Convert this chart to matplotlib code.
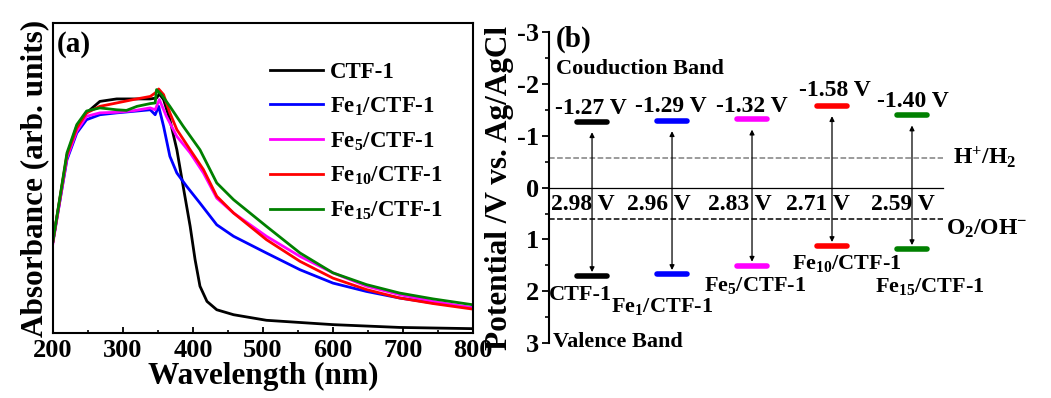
import matplotlib
matplotlib.use("Agg")
import matplotlib.pyplot as plt
import numpy as np
from matplotlib.ticker import MultipleLocator

plt.rcParams['font.family'] = ['Liberation Serif', 'DejaVu Serif']
plt.rcParams['font.weight'] = 'bold'
plt.rcParams['axes.labelweight'] = 'bold'
plt.rcParams['axes.unicode_minus'] = False
plt.rcParams['mathtext.fontset'] = 'custom'
plt.rcParams['mathtext.rm'] = 'Liberation Serif:bold'
plt.rcParams['mathtext.it'] = 'Liberation Serif:bold'
plt.rcParams['mathtext.bf'] = 'Liberation Serif:bold'
plt.rcParams['mathtext.default'] = 'rm'

# (a) UV-vis absorbance
wl_ctf = [200, 220, 234, 248, 267, 291, 315, 339, 348, 352, 358, 367, 377, 386, 396, 403, 410, 420, 434, 458, 505, 600, 695, 800]
ab_ctf = [0.296, 0.570, 0.667, 0.710, 0.747, 0.755, 0.755, 0.755, 0.758, 0.771, 0.753, 0.688, 0.591, 0.473, 0.344, 0.237, 0.151, 0.102, 0.075, 0.059, 0.041, 0.027, 0.018, 0.014]

wl_fe1 = [200, 220, 234, 248, 267, 291, 315, 339, 346, 351, 358, 367, 377, 391, 410, 434, 458, 505, 553, 600, 648, 695, 743, 800]
ab_fe1 = [0.296, 0.559, 0.645, 0.688, 0.704, 0.710, 0.715, 0.720, 0.704, 0.731, 0.667, 0.570, 0.516, 0.473, 0.419, 0.349, 0.312, 0.258, 0.204, 0.161, 0.134, 0.113, 0.097, 0.081]

wl_fe5 = [200, 220, 234, 248, 267, 291, 315, 339, 346, 352, 362, 377, 396, 415, 434, 458, 505, 553, 600, 648, 695, 743, 800]
ab_fe5 = [0.290, 0.565, 0.651, 0.699, 0.710, 0.712, 0.717, 0.726, 0.720, 0.753, 0.699, 0.634, 0.581, 0.516, 0.435, 0.387, 0.312, 0.247, 0.194, 0.151, 0.124, 0.102, 0.081]

wl_fe10 = [200, 220, 234, 248, 267, 291, 315, 339, 346, 351, 358, 367, 377, 396, 415, 434, 458, 505, 553, 600, 648, 695, 743, 800]
ab_fe10 = [0.296, 0.575, 0.661, 0.710, 0.731, 0.742, 0.753, 0.763, 0.774, 0.787, 0.769, 0.710, 0.656, 0.591, 0.527, 0.441, 0.387, 0.301, 0.231, 0.177, 0.140, 0.113, 0.095, 0.077]

wl_fe15 = [200, 220, 234, 248, 267, 291, 305, 320, 339, 346, 348, 355, 367, 386, 410, 434, 458, 505, 553, 600, 648, 695, 743, 800]
ab_fe15 = [0.296, 0.581, 0.672, 0.716, 0.726, 0.720, 0.718, 0.731, 0.740, 0.742, 0.785, 0.769, 0.731, 0.667, 0.591, 0.484, 0.430, 0.344, 0.258, 0.194, 0.156, 0.129, 0.110, 0.091]

names = ['CTF-1', 'Fe$_{1}$/CTF-1', 'Fe$_{5}$/CTF-1', 'Fe$_{10}$/CTF-1', 'Fe$_{15}$/CTF-1']
colors = ['black', 'blue', 'magenta', 'red', 'green']

# (b) band positions (V vs. Ag/AgCl)
cb = [-1.27, -1.29, -1.32, -1.58, -1.40]
gap = [2.98, 2.96, 2.83, 2.71, 2.59]
vb = [c + g for c, g in zip(cb, gap)]
h_level = -0.57
o_level = 0.60

fig = plt.figure(figsize=(10.51, 3.98), dpi=100)

# ---- panel (a)
ax = fig.add_axes([0.0504, 0.1633, 0.3996, 0.779])
spectra = [(wl_ctf, ab_ctf), (wl_fe1, ab_fe1), (wl_fe5, ab_fe5), (wl_fe10, ab_fe10), (wl_fe15, ab_fe15)]
for (wl, ab), nm, c in zip(spectra, names, colors):
    ax.plot(wl, ab, color=c, lw=2, label=nm)
ax.set_xlim(200, 800)
ax.set_ylim(0, 1)
ax.set_yticks([])
ax.xaxis.set_major_locator(MultipleLocator(100))
ax.xaxis.set_minor_locator(MultipleLocator(50))
ax.tick_params(axis='x', direction='in', length=4, width=1.3, labelsize=19, pad=4)
ax.tick_params(axis='x', which='minor', direction='in', length=2.5, width=1.2)
for s in ax.spines.values():
    s.set_linewidth(1.5)
ax.set_xlabel('Wavelength (nm)', fontsize=22.5, labelpad=0)
ax.set_ylabel('Absorbance (arb. units)', fontsize=22.5, labelpad=3)
ax.text(0.008, 0.975, '(a)', transform=ax.transAxes, fontsize=21, va='top', ha='left')
ax.legend(loc='upper left', bbox_to_anchor=(0.517, 0.875), frameon=False, fontsize=16.5,
          handlelength=2.3, handletextpad=0.3, labelspacing=0.55, borderaxespad=0, borderpad=0)

# ---- panel (b)
bx = fig.add_axes([0.5224, 0.138, 0.391, 0.781])
xs = np.arange(1, 6)
bx.set_xlim(0.4625, 5.6)
bx.set_ylim(3, -3)
for s in ['top', 'right', 'bottom']:
    bx.spines[s].set_visible(False)
bx.spines['left'].set_linewidth(1.5)
bx.set_xticks([])
bx.yaxis.set_major_locator(MultipleLocator(1))
bx.yaxis.set_minor_locator(MultipleLocator(0.5))
bx.tick_params(axis='y', direction='out', length=5, width=1.3, labelsize=19, pad=2)
bx.tick_params(axis='y', which='minor', direction='out', length=3, width=1.2)
bx.set_ylabel('Potential /V vs. Ag/AgCl', fontsize=22.5, labelpad=2)

line_end = 5.39
bx.plot([0.4625, line_end], [0, 0], color='black', lw=0.9)
bx.plot([0.4625, line_end], [h_level, h_level], ls='--', color='gray', lw=1.1)
bx.plot([0.4625, line_end], [o_level, o_level], ls='--', color='black', lw=1.1)

half = 0.19
for x, c, v, g, col in zip(xs, cb, vb, gap, colors):
    bx.plot([x - half, x + half], [c, c], color=col, lw=4, solid_capstyle='round')
    bx.plot([x - half, x + half], [v, v], color=col, lw=4, solid_capstyle='round')
    bx.annotate('', xy=(x, v - 0.08), xytext=(x, c + 0.2),
                arrowprops=dict(arrowstyle='<|-|>', color='black', lw=0.9,
                                mutation_scale=7, shrinkA=0, shrinkB=0))

gap_x = [0.88, 1.83, 2.85, 3.83, 4.88]
for x, g in zip(gap_x, gap):
    bx.text(x, 0.33, f'{g:.2f} V', fontsize=17, ha='center', va='center')

cb_lab_x = [0.98, 1.98, 3.0, 4.04, 5.01]
cb_lab_y = [-1.52, -1.56, -1.56, -1.87, -1.66]
for x, y, c in zip(cb_lab_x, cb_lab_y, cb):
    bx.text(x, y, f'{c:.2f} V', fontsize=17, ha='center', va='center')

name_x = [0.85, 1.88, 3.04, 4.19, 5.23]
name_y = [2.08, 2.3, 1.88, 1.47, 1.9]
for x, y, nm in zip(name_x, name_y, names):
    bx.text(x, y, nm, fontsize=16, ha='center', va='center')

bx.text(0.55, -2.3, 'Couduction Band', fontsize=16, ha='left', va='center')
bx.text(0.51, 2.97, 'Valence Band', fontsize=16, ha='left', va='center')
bx.text(0.55, -2.87, '(b)', fontsize=21, ha='left', va='center')
bx.text(5.51, h_level - 0.02, 'H$^{+}$/H$_{2}$', fontsize=17, ha='left', va='center', clip_on=False)
bx.text(5.42, o_level + 0.2, 'O$_{2}$/OH$^{-}$', fontsize=17, ha='left', va='center', clip_on=False)

fig.savefig('out.png', dpi=100)
